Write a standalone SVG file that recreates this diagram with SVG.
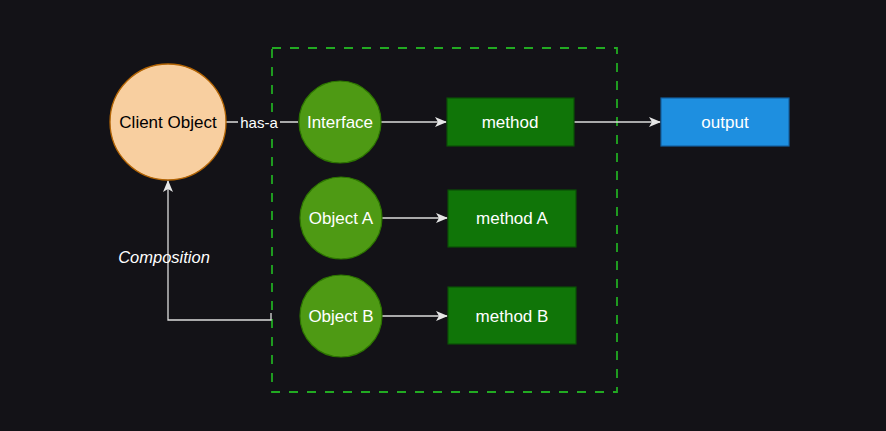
<svg xmlns="http://www.w3.org/2000/svg" width="886" height="431" viewBox="0 0 886 431">
<style>
text{font-family:"Liberation Sans",Arial,sans-serif;font-size:17px;text-anchor:middle}
.w{fill:#ffffff}
.circ{fill:#4e9a14;stroke:#2d7600;stroke-width:1.2}
.meth{fill:#107508;stroke:#0a4f05;stroke-width:1.2}
.edge{fill:none;stroke:#dcdcdc;stroke-width:1.3}
</style>
<defs>
<marker id="arr" viewBox="0 0 12 10" refX="11" refY="5" markerWidth="12" markerHeight="10" markerUnits="userSpaceOnUse" orient="auto">
<path d="M0,0 L12,5 L0,10 L3,5 Z" fill="#e6e6e6"/>
</marker>
</defs>
<rect width="886" height="431" fill="#131217"/>
<g id="container">
<rect x="272" y="48" width="345" height="344" fill="none" stroke="#22aa22" stroke-width="1.8" stroke-dasharray="9,9"/>
</g>
<g id="connectors">
<line class="edge" x1="226" y1="122" x2="298" y2="122"/>
<line class="edge" x1="381" y1="122" x2="446" y2="122" marker-end="url(#arr)"/>
<line class="edge" x1="382" y1="218" x2="447" y2="218" marker-end="url(#arr)"/>
<line class="edge" x1="382" y1="316" x2="447" y2="316" marker-end="url(#arr)"/>
<line class="edge" x1="574" y1="122" x2="660" y2="122" marker-end="url(#arr)"/>
<path class="edge" d="M271,313 V320 H168 V181" marker-end="url(#arr)"/>
<rect x="238" y="113" width="42" height="18" fill="#131217"/>
<text class="w" x="259" y="128" style="font-size:15px">has-a</text>
<text class="w" x="164" y="263" style="font-style:italic;font-size:16.5px">Composition</text>
</g>
<g id="client">
<circle cx="168" cy="122" r="58" fill="#f8cfa0" stroke="#b46504" stroke-width="1.3"/>
<text x="168" y="128" fill="#000000">Client Object</text>
</g>
<g id="interface">
<circle class="circ" cx="340" cy="122" r="41"/>
<text class="w" x="340" y="128">Interface</text>
</g>
<g id="objectA">
<circle class="circ" cx="341" cy="218" r="41"/>
<text class="w" x="341" y="224">Object A</text>
</g>
<g id="objectB">
<circle class="circ" cx="341" cy="316" r="41"/>
<text class="w" x="341" y="322">Object B</text>
</g>
<g id="method">
<rect class="meth" x="447" y="98" width="127" height="48"/>
<text class="w" x="510" y="128">method</text>
</g>
<g id="methodA">
<rect class="meth" x="448" y="190" width="128" height="57"/>
<text class="w" x="512" y="224">method A</text>
</g>
<g id="methodB">
<rect class="meth" x="448" y="287" width="128" height="57"/>
<text class="w" x="512" y="322">method B</text>
</g>
<g id="output">
<rect x="661" y="98" width="128" height="48" fill="#1e8fe0" stroke="#135fa0" stroke-width="1.2"/>
<text class="w" x="725" y="128">output</text>
</g>
</svg>
